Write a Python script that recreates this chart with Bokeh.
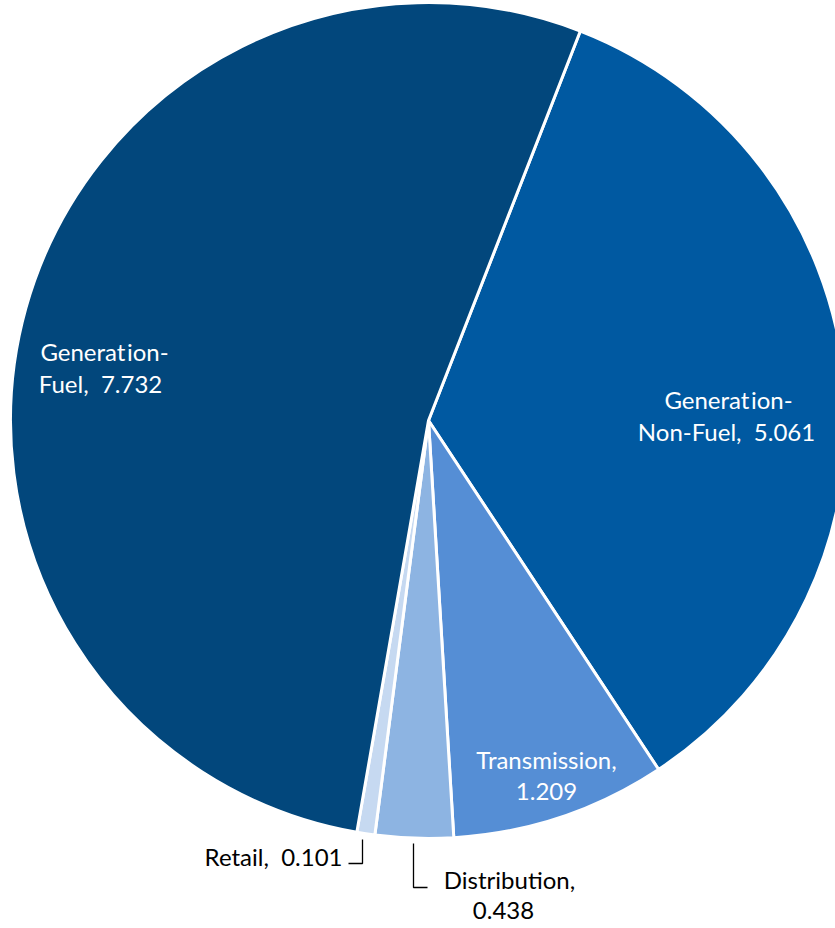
import math
from bokeh.plotting import figure
from bokeh.models import Range1d, ColumnDataSource
from bokeh.core.properties import value
from bokeh.embed import file_html
from bokeh.resources import INLINE

# ---- data ----
categories = ["Generation-Non-Fuel", "Transmission", "Distribution", "Retail", "Generation-Fuel"]
values = [5.061, 1.209, 0.438, 0.101, 7.732]
colors = ["#0059A1", "#558ED5", "#8DB4E2", "#C6D9F1", "#02477C"]
NB = "\u00a0"
HS = "\u200a"  # hair space to break the "ti" ligature of Lato
label_line1 = ["Generat" + HS + "ion-", "Transmission,", "Distribution,", "Retail," + NB + " 0.101", "Generat" + HS + "ion-"]
label_line2 = ["Non-Fuel," + NB + " 5.061", "1.209", "0.438", "", "Fuel," + NB + " 7.732"]

# ---- layout (pixel coordinates of the picture; y measured from top) ----
W, H = 835, 928
CX, CY, R = 428, 420, 418
START_CW = 21.3  # degrees clockwise from 12 o'clock where the first slice begins

def py(y):  # picture y (from top) -> data y
    return H - y

total = sum(values)
starts, ends = [], []
acc = START_CW
for v in values:
    a1 = acc
    a2 = acc + v / total * 360.0
    starts.append(math.radians(90 - a2))
    ends.append(math.radians(90 - a1))
    acc = a2

src = ColumnDataSource(dict(cat=categories, val=values, color=colors, start=starts, end=ends))

p = figure(width=W, height=H, output_backend="svg", toolbar_location=None,
           x_range=Range1d(0, W), y_range=Range1d(0, H),
           min_border=0, min_border_left=0, min_border_right=0,
           min_border_top=0, min_border_bottom=0)
p.axis.visible = False
p.grid.visible = False
p.outline_line_color = None
p.background_fill_color = "white"
p.border_fill_color = "white"

p.wedge(x=CX, y=py(CY), radius=R, start_angle="start", end_angle="end",
        direction="anticlock", fill_color="color", line_color="white",
        line_width=3, source=src)

FONT = value("Lato")
FS = "24px"

def lab(x, y, t, color, align="center"):
    p.text(x=[x], y=[py(y)], text=[t], text_font=FONT, text_font_size=FS,
           text_color=color, text_align=align, text_baseline="middle")

# Generation-Non-Fuel
lab(728, 399, label_line1[0], "white")
lab(726, 431, label_line2[0], "white")
# Transmission
lab(546, 759, label_line1[1], "white")
lab(546, 791, label_line2[1], "white")
# Distribution
lab(509, 879, label_line1[2], "#000000")
lab(503, 910, label_line2[2], "#000000")
# Retail
lab(342, 856, label_line1[3], "#000000", align="right")
# Generation-Fuel
lab(104, 351, label_line1[4], "white")
lab(100, 383, label_line2[4], "white")

# leader lines
p.line(x=[362, 362, 348], y=[py(839), py(863), py(863)], line_color="black", line_width=1.3)
p.line(x=[413, 413, 427], y=[py(843), py(887), py(887)], line_color="black", line_width=1.3)

open("out.html", "w").write(file_html(p, INLINE))
